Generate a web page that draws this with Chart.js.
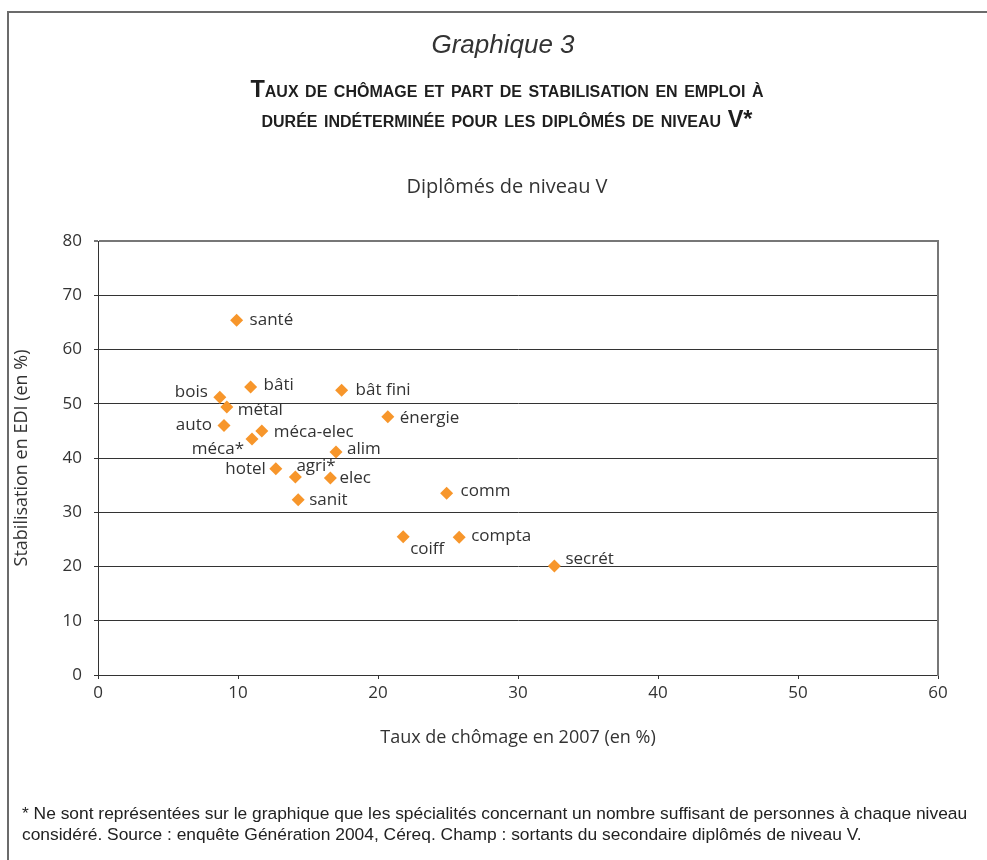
<!DOCTYPE html>
<html lang="fr">
<head>
<meta charset="utf-8">
<script src="https://cdn.jsdelivr.net/npm/chart.js@4.4.1/dist/chart.umd.min.js"></script>
<style>
  html, body { margin: 0; padding: 0; background: #fff; overflow: hidden; }
  body { width: 987px; height: 860px; position: relative; color: #333; }
  #frame { position: absolute; left: 7px; top: 11px; width: 1100px; height: 1000px;
           border-left: 2px solid #6b6b6b; border-top: 2px solid #6b6b6b; }
  #chart { position: absolute; left: 0; top: 0; }
  .txt { position: absolute; white-space: nowrap; }
  #graphique { left: 7px; width: 992px; top: 29px; text-align: center;
               font: italic 26px "Liberation Sans", sans-serif; color: #333; }
  .titre { left: 7px; width: 1000px; text-align: center;
           font: bold 23.5px "Liberation Sans", sans-serif;
           font-variant: small-caps; color: #1e1e1e; }
  #titre1 { top: 76px; }
  #titre2 { top: 106px; }
  #soustitre { left: 0; width: 1014px; top: 172px; text-align: center;
               font: 20px "Open Sans", sans-serif; color: #333; }
  .note { left: 22px; font: 17.4px "Liberation Sans", sans-serif; color: #222; }
  #note1 { top: 803px; }
  #note2 { top: 824px; }
</style>
</head>
<body>
<div id="frame"></div>
<canvas id="chart" width="987" height="860"></canvas>
<div class="txt" id="graphique">Graphique 3</div>
<div class="txt titre" id="titre1">Taux de chômage et part de stabilisation en emploi à</div>
<div class="txt titre" id="titre2">durée indéterminée pour les diplômés de niveau V*</div>
<div class="txt" id="soustitre">Diplômés de niveau V</div>
<div class="txt note" id="note1">* Ne sont représentées sur le graphique que les spécialités concernant un nombre suffisant de personnes à chaque niveau</div>
<div class="txt note" id="note2">considéré. Source : enquête Génération 2004, Céreq. Champ : sortants du secondaire diplômés de niveau V.</div>
<script>
const specialites = ['santé', 'bois', 'bâti', 'bât fini', 'métal', 'énergie', 'auto', 'méca-elec', 'méca*',
                     'alim', 'hotel', 'agri*', 'elec', 'sanit', 'comm', 'coiff', 'compta', 'secrét'];
const tauxChomage = [9.9, 8.7, 10.9, 17.4, 9.2, 20.7, 9.0, 11.7, 11.0,
                     17.0, 12.7, 14.1, 16.6, 14.3, 24.9, 21.8, 25.8, 32.6];
const stabilisation = [65.4, 51.2, 53.1, 52.5, 49.4, 47.6, 46.0, 45.0, 43.5,
                       41.1, 38.0, 36.5, 36.3, 32.3, 33.5, 25.5, 25.4, 20.1];

// where each name sits next to its diamond (negative dx = text on the left)
const labelDx = [13, -12, 13, 14, 11, 12, -12, 12, -8, 11, -10, 1, 9, 11, 14, 7, 12, 11];
const labelDy = [0, -5, -2, 0, 3, 1, 0, 1, 10, -3, 0, -11, 0, 0, -2, 12, -1, -7];

const orange = '#F7962B';
const labelFont = '17px "Open Sans", sans-serif';

const pointLabels = {
  id: 'pointLabels',
  afterDatasetsDraw(chart) {
    const ctx = chart.ctx;
    const meta = chart.getDatasetMeta(0);
    ctx.save();
    ctx.font = labelFont;
    ctx.fillStyle = '#333';
    ctx.textBaseline = 'middle';
    meta.data.forEach(function (pt, i) {
      ctx.textAlign = labelDx[i] < 0 ? 'right' : 'left';
      ctx.fillText(specialites[i], pt.x + labelDx[i], pt.y + labelDy[i]);
    });
    ctx.restore();
  }
};

const points = tauxChomage.map(function (x, i) { return { x: x, y: stabilisation[i] }; });

new Chart(document.getElementById('chart'), {
  type: 'scatter',
  data: {
    datasets: [{
      data: points,
      pointStyle: 'rectRot',
      pointRadius: 6.5,
      pointHoverRadius: 6.5,
      backgroundColor: orange,
      borderColor: orange,
      borderWidth: 0
    }]
  },
  options: {
    responsive: false,
    animation: false,
    layout: { padding: { top: 241, right: 49, bottom: 95, left: 0 } },
    plugins: { legend: { display: false }, tooltip: { enabled: false } },
    font: { family: '"Open Sans", sans-serif' },
    scales: {
      x: {
        type: 'linear', min: 0, max: 60,
        afterFit: function (s) { s.height = 90; },
        border: { color: '#333', width: 1 },
        grid: { drawOnChartArea: false, drawTicks: true, tickLength: 4, color: '#333' },
        ticks: { stepSize: 10, padding: 4, color: '#333', font: { size: 17 } },
        title: { display: true, text: 'Taux de chômage en 2007 (en %)', color: '#333',
                 font: { size: 18 }, padding: { top: 0, bottom: 16 } }
      },
      y: {
        type: 'linear', min: 0, max: 80,
        afterFit: function (s) { s.width = 98; },
        border: { color: '#333', width: 1 },
        grid: {
          drawTicks: true, tickLength: 4,
          color: function (c) { return c.tick && c.tick.value === 80 ? '#777' : '#333'; },
          lineWidth: function (c) { return c.tick && c.tick.value === 80 ? 2 : 1; }
        },
        ticks: { stepSize: 10, padding: 12, color: '#333', font: { size: 17 } },
        title: { display: true, text: 'Stabilisation en EDI (en %)', color: '#333',
                 font: { size: 18 }, padding: { top: 11, bottom: 0 } }
      },
      y2: {
        type: 'linear', position: 'right', min: 0, max: 80,
        afterFit: function (s) { s.width = 0; },
        border: { display: true, color: '#777', width: 2 },
        grid: { display: false },
        ticks: { display: false }
      }
    }
  },
  plugins: [pointLabels]
});
</script>
</body>
</html>
